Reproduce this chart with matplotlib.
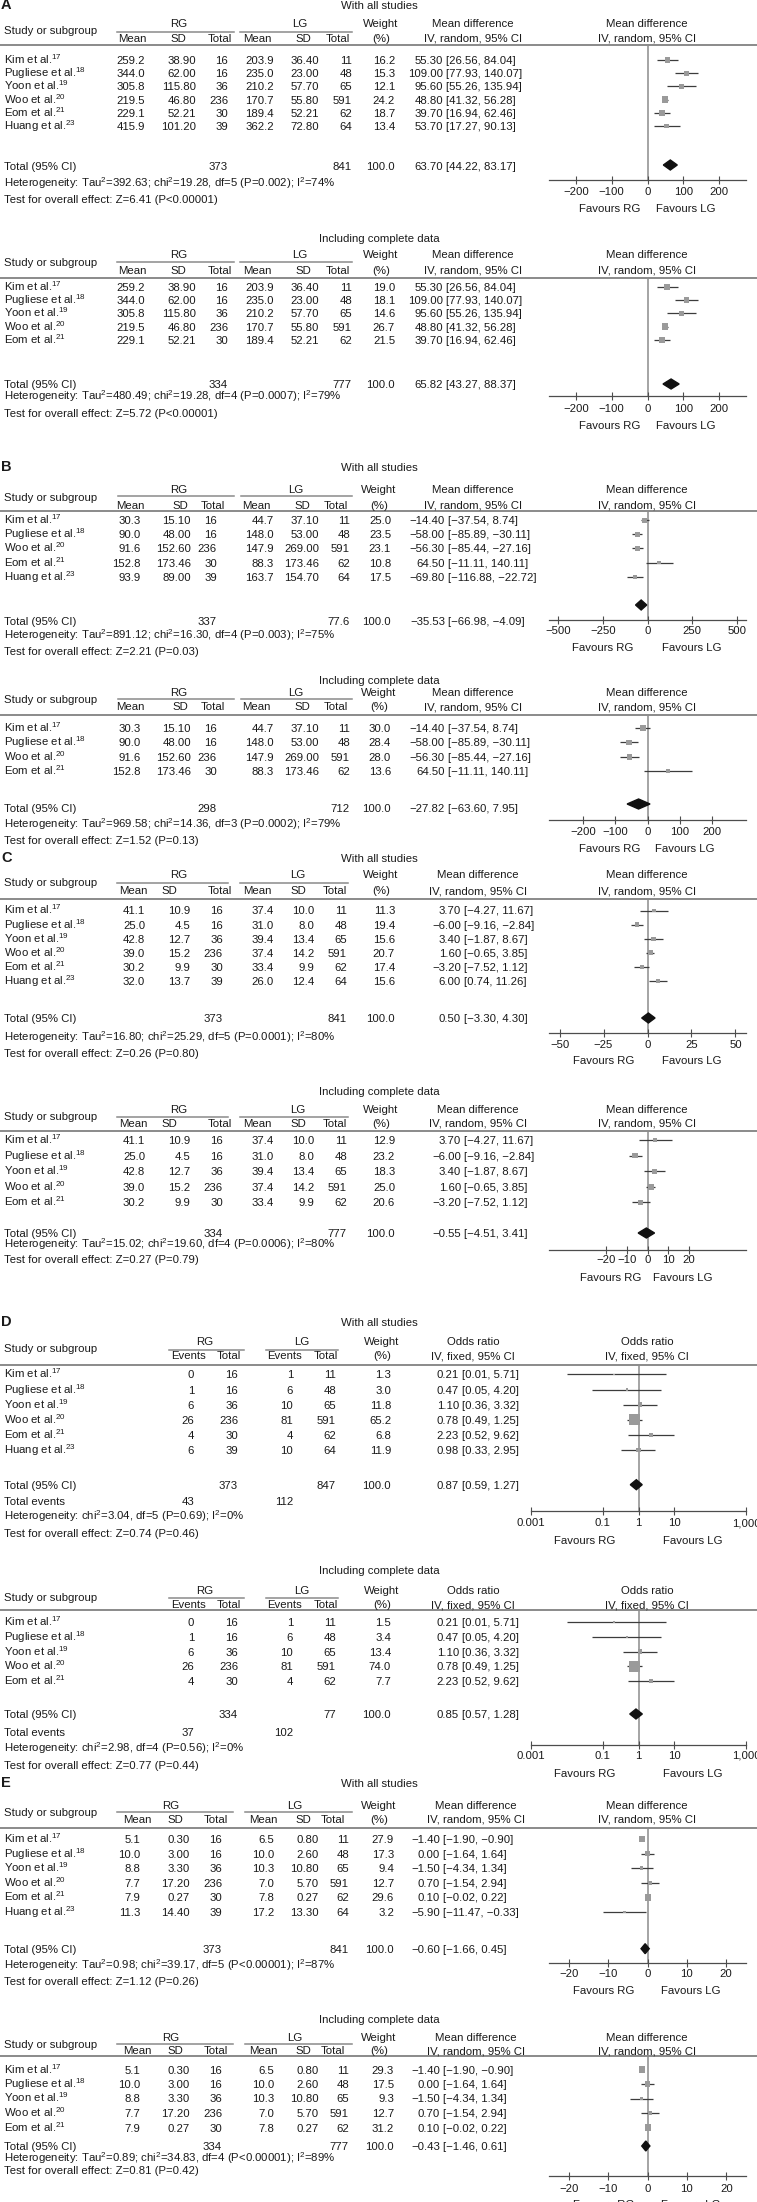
import numpy as np
import matplotlib
matplotlib.use('Agg')
import matplotlib.pyplot as plt
from matplotlib.patches import Polygon

# ---- data -------------------------------------------------------------
names6 = ['Kim et al.', 'Pugliese et al.', 'Yoon et al.', 'Woo et al.', 'Eom et al.', 'Huang et al.']
refs6 = [17, 18, 19, 20, 21, 23]
names_b = ['Kim et al.', 'Pugliese et al.', 'Woo et al.', 'Eom et al.', 'Huang et al.']
refs_b = [17, 18, 20, 21, 23]
rg_n6 = [16, 16, 36, 236, 30, 39]
lg_n6 = [11, 48, 65, 591, 62, 64]

# A
a_rg_mean = [259.2, 344.0, 305.8, 219.5, 229.1, 415.9]
a_rg_sd = [38.90, 62.00, 115.80, 46.80, 52.21, 101.20]
a_lg_mean = [203.9, 235.0, 210.2, 170.7, 189.4, 362.2]
a_lg_sd = [36.40, 23.00, 57.70, 55.80, 52.21, 72.80]
a_md = [55.30, 109.00, 95.60, 48.80, 39.70, 53.70]
a_lo = [26.56, 77.93, 55.26, 41.32, 16.94, 17.27]
a_hi = [84.04, 140.07, 135.94, 56.28, 62.46, 90.13]
a_w_all = [16.2, 15.3, 12.1, 24.2, 18.7, 13.4]
a_w_cmp = [19.0, 18.1, 14.6, 26.7, 21.5]
a_n_all = [373, 841]
a_n_cmp = [334, 777]
a_pool_all = [63.70, 44.22, 83.17]
a_pool_cmp = [65.82, 43.27, 88.37]

# B
b_rg_mean = [30.3, 90.0, 91.6, 152.8, 93.9]
b_rg_sd = [15.10, 48.00, 152.60, 173.46, 89.00]
b_rg_n = [16, 16, 236, 30, 39]
b_lg_mean = [44.7, 148.0, 147.9, 88.3, 163.7]
b_lg_sd = [37.10, 53.00, 269.00, 173.46, 154.70]
b_lg_n = [11, 48, 591, 62, 64]
b_md = [-14.40, -58.00, -56.30, 64.50, -69.80]
b_lo = [-37.54, -85.89, -85.44, -11.11, -116.88]
b_hi = [8.74, -30.11, -27.16, 140.11, -22.72]
b_w_all = [25.0, 23.5, 23.1, 10.8, 17.5]
b_w_cmp = [30.0, 28.4, 28.0, 13.6]
b_n_all = [337, 77.6]
b_n_cmp = [298, 712]
b_pool_all = [-35.53, -66.98, -4.09]
b_pool_cmp = [-27.82, -63.60, 7.95]

# C
c_rg_mean = [41.1, 25.0, 42.8, 39.0, 30.2, 32.0]
c_rg_sd = [10.9, 4.5, 12.7, 15.2, 9.9, 13.7]
c_lg_mean = [37.4, 31.0, 39.4, 37.4, 33.4, 26.0]
c_lg_sd = [10.0, 8.0, 13.4, 14.2, 9.9, 12.4]
c_md = [3.70, -6.00, 3.40, 1.60, -3.20, 6.00]
c_lo = [-4.27, -9.16, -1.87, -0.65, -7.52, 0.74]
c_hi = [11.67, -2.84, 8.67, 3.85, 1.12, 11.26]
c_w_all = [11.3, 19.4, 15.6, 20.7, 17.4, 15.6]
c_w_cmp = [12.9, 23.2, 18.3, 25.0, 20.6]
c_n_all = [373, 841]
c_n_cmp = [334, 777]
c_pool_all = [0.50, -3.30, 4.30]
c_pool_cmp = [-0.55, -4.51, 3.41]

# D
d_rg_ev = [0, 1, 6, 26, 4, 6]
d_lg_ev = [1, 6, 10, 81, 4, 10]
d_or = [0.21, 0.47, 1.10, 0.78, 2.23, 0.98]
d_lo = [0.01, 0.05, 0.36, 0.49, 0.52, 0.33]
d_hi = [5.71, 4.20, 3.32, 1.25, 9.62, 2.95]
d_w_all = [1.3, 3.0, 11.8, 65.2, 6.8, 11.9]
d_w_cmp = [1.5, 3.4, 13.4, 74.0, 7.7]
d_n_all = [373, 847]
d_n_cmp = [334, 77]
d_ev_all = [43, 112]
d_ev_cmp = [37, 102]
d_pool_all = [0.87, 0.59, 1.27]
d_pool_cmp = [0.85, 0.57, 1.28]

# E
e_rg_mean = [5.1, 10.0, 8.8, 7.7, 7.9, 11.3]
e_rg_sd = [0.30, 3.00, 3.30, 17.20, 0.27, 14.40]
e_lg_mean = [6.5, 10.0, 10.3, 7.0, 7.8, 17.2]
e_lg_sd = [0.80, 2.60, 10.80, 5.70, 0.27, 13.30]
e_md = [-1.40, 0.00, -1.50, 0.70, 0.10, -5.90]
e_lo = [-1.90, -1.64, -4.34, -1.54, -0.02, -11.47]
e_hi = [-0.90, 1.64, 1.34, 2.94, 0.22, -0.33]
e_w_all = [27.9, 17.3, 9.4, 12.7, 29.6, 3.2]
e_w_cmp = [29.3, 17.5, 9.3, 12.7, 31.2]
e_n_all = [373, 841]
e_n_cmp = [334, 777]
e_pool_all = [-0.60, -1.66, 0.45]
e_pool_cmp = [-0.43, -1.46, 0.61]

S2 = r'$^{\mathregular{2}}$'
het_txt = {
    'a1': f'Heterogeneity: Tau{S2}=392.63; chi{S2}=19.28, df=5 (P=0.002); I{S2}=74%',
    'a2': f'Heterogeneity: Tau{S2}=480.49; chi{S2}=19.28, df=4 (P=0.0007); I{S2}=79%',
    'b1': f'Heterogeneity: Tau{S2}=891.12; chi{S2}=16.30, df=4 (P=0.003); I{S2}=75%',
    'b2': f'Heterogeneity: Tau{S2}=969.58; chi{S2}=14.36, df=3 (P=0.0002); I{S2}=79%',
    'c1': f'Heterogeneity: Tau{S2}=16.80; chi{S2}=25.29, df=5 (P=0.0001); I{S2}=80%',
    'c2': f'Heterogeneity: Tau{S2}=15.02; chi{S2}=19.60, df=4 (P=0.0006); I{S2}=80%',
    'd1': f'Heterogeneity: chi{S2}=3.04, df=5 (P=0.69); I{S2}=0%',
    'd2': f'Heterogeneity: chi{S2}=2.98, df=4 (P=0.56); I{S2}=0%',
    'e1': f'Heterogeneity: Tau{S2}=0.98; chi{S2}=39.17, df=5 (P<0.00001); I{S2}=87%',
    'e2': f'Heterogeneity: Tau{S2}=0.89; chi{S2}=34.83, df=4 (P<0.00001); I{S2}=89%',
}
test_txt = {
    'a1': 'Test for overall effect: Z=6.41 (P<0.00001)',
    'a2': 'Test for overall effect: Z=5.72 (P<0.00001)',
    'b1': 'Test for overall effect: Z=2.21 (P=0.03)',
    'b2': 'Test for overall effect: Z=1.52 (P=0.13)',
    'c1': 'Test for overall effect: Z=0.26 (P=0.80)',
    'c2': 'Test for overall effect: Z=0.27 (P=0.79)',
    'd1': 'Test for overall effect: Z=0.74 (P=0.46)',
    'd2': 'Test for overall effect: Z=0.77 (P=0.44)',
    'e1': 'Test for overall effect: Z=1.12 (P=0.26)',
    'e2': 'Test for overall effect: Z=0.81 (P=0.42)',
}

# ---- layout (pixel positions) ------------------------------------------
W, H = 757, 2202
FS = 8.2
TC = '#1a1a1a'
LINE = '#8a8a8a'

L_a1 = dict(T=5, h1=23, h2=37.5, ul=32, rule=45, r0=60, dr=13.2, tot=166, dia=165,
            het=182.7, test=199.3, axis=180, tl=193.3, fav=208.3, fx=(610, 686))
L_a2 = dict(T=238, h1=254, h2=269.7, ul=262, rule=278, r0=287, dr=13.2, tot=384, dia=384,
            het=396.3, test=413, axis=396, tl=410.7, fav=424.7, fx=(610, 686))
L_b1 = dict(T=467, h1=488.7, h2=504.7, ul=496, rule=511.3, r0=520, dr=14.2, tot=621.3, dia=605,
            het=635.3, test=651.3, axis=620, tl=632.7, fav=646.7, fx=(603, 692))
L_b2 = dict(T=680.3, h1=692, h2=706.5, ul=699, rule=715, r0=728.3, dr=14.2, tot=808.3, dia=804,
            het=824.3, test=840, axis=820, tl=833.3, fav=848.3, fx=(610, 685))
L_c1 = dict(T=858.3, h1=874, h2=890.5, ul=882.5, rule=899.3, r0=910.5, dr=14.1, tot=1018, dia=1018,
            het=1037, test=1053, axis=1033, tl=1046.3, fav=1059.7, fx=(604, 692))
L_c2 = dict(T=1091.3, h1=1108.7, h2=1123, ul=1117, rule=1131.3, r0=1140, dr=15.6, tot=1233, dia=1233,
            het=1244, test=1258.7, axis=1250, tl=1261.7, fav=1276.7, fx=(611, 683))
L_d1 = dict(T=1322, h1=1341.3, h2=1355.3, ul=1350, rule=1365.3, r0=1374.5, dr=15.1, tot=1484.7,
            dia=1484.7, tev=1500.7, het=1516.3, test=1533, axis=1511.3, tl=1524.7, fav=1539.7, fx=(585, 693))
L_d2 = dict(T=1569.7, h1=1589.7, h2=1604, ul=1598, rule=1609.7, r0=1622, dr=14.8, tot=1714,
            dia=1714, tev=1732, het=1748, test=1764.7, axis=1744.7, tl=1757.3, fav=1773, fx=(585, 693))
L_e1 = dict(T=1783, h1=1804.7, h2=1818.7, ul=1812, rule=1828, r0=1839, dr=14.6, tot=1948.7, dia=1948.7,
            het=1965.3, test=1981.3, axis=1962.7, tl=1975.3, fav=1989.7, fx=(604, 691))
L_e2 = dict(T=2018.7, h1=2037, h2=2050.3, ul=2044, rule=2056, r0=2069.5, dr=14.5, tot=2146, dia=2146,
            het=2158.3, test=2170, axis=2176, tl=2190, fav=2204, fx=(604, 691))

X_a = dict(cols=[145, 196, 228, 274, 319, 352], heads=[132, 178, 220, 257, 303, 338],
           grp=[(179, 117, 234), (300, 240, 352)], w=395, wh=381, e=443, mh=473)
X_b = dict(cols=[141, 191, 217, 274, 319, 350], heads=[130, 180, 213, 256, 302, 336],
           grp=[(179, 118, 234), (296, 241, 352)], w=391, wh=379, e=445, mh=473)
X_c = dict(cols=[145, 190, 223, 274, 314, 347], heads=[133, 169, 220, 257, 298, 335],
           grp=[(179, 117, 228), (298, 240, 348)], w=395, wh=381, e=461, mh=478)
X_d = dict(cols=[194, 238, 293, 336], heads=[188, 229, 285, 326],
           grp=[(205, 169, 244), (302, 266, 338)], w=391, wh=382, e=459, mh=473)
X_e = dict(cols=[140, 190, 222, 274, 319, 349], heads=[137, 175, 216, 263, 303, 333],
           grp=[(171, 117, 233), (295, 245, 352)], w=394, wh=379, e=440, mh=476)

plt.rcParams['font.family'] = ['Liberation Sans', 'DejaVu Sans']
plt.rcParams['axes.unicode_minus'] = True

fig = plt.figure(figsize=(W / 100, H / 100), dpi=100)
bg = fig.add_axes([0, 0, 1, 1])
bg.set_xlim(0, W)
bg.set_ylim(H, 0)
bg.axis('off')


def num(v, d):
    return f'{v:.{d}f}'.replace('-', '\u2212')


def txt(x, y, s, ha='left', size=FS, **kw):
    # y is the visual centre of the capitals
    bg.text(x, y + 4, s, ha=ha, va='baseline', fontsize=size, color=TC, **kw)


def forest(L, est, lo, hi, wts, pooled, xlim, ticks, tlabels, k, log=False, x0=549, x1=746):
    ax = fig.add_axes([x0 / W, 1 - L['axis'] / H, (x1 - x0) / W, (L['axis'] - L['rule']) / H])
    if log:
        ax.set_xscale('log')
    ax.set_xlim(*xlim)
    ax.set_ylim(L['axis'], L['rule'])
    ax.patch.set_visible(False)
    for s in ('top', 'right', 'left'):
        ax.spines[s].set_visible(False)
    ax.spines['bottom'].set_color('#4d4d4d')
    ax.spines['bottom'].set_linewidth(0.9)
    ax.set_yticks([])
    ax.set_xticks(ticks, tlabels)
    ax.minorticks_off()
    pad = max((L['tl'] - L['axis'] - 6.3) / 1.389 - 3, 0)
    ax.tick_params(axis='x', direction='inout', length=6, width=0.8, color='#4d4d4d',
                   labelsize=FS, labelcolor=TC, pad=pad)
    ax.axvline(1 if log else 0, color='#8c8c8c', lw=1.1, zorder=1)
    n = len(wts)
    ys = L['r0'] + L['dr'] * np.arange(n)
    ax.hlines(ys, lo[:n], hi[:n], color='#3c3c3c', lw=0.9, zorder=2)
    ax.scatter(est[:n], ys, marker='s', s=(k * 0.72 * np.sqrt(wts)) ** 2,
               color='#9a9a9a', linewidths=0, zorder=3)
    pe, pl, ph = pooled
    yd = L['dia']
    ax.add_patch(Polygon([(pl, yd), (pe, yd - 5), (ph, yd), (pe, yd + 5)], closed=True,
                         color='#111111', zorder=4))
    txt(L['fx'][0], L['fav'], 'Favours RG', ha='center')
    txt(L['fx'][1], L['fav'], 'Favours LG', ha='center')


def table(L, X, title, letter, names, refs, cols, decs, heads, tot_idx, wts, est, lo, hi,
          n_tot, pooled, key, effect, events=None):
    n = len(wts)
    txt(379, L['T'], title, ha='center')
    if letter:
        txt(1, L['T'], letter, size=10.5, weight='bold')
    txt(4, (L['h1'] + L['h2']) / 2, 'Study or subgroup')
    for g, (cx, a, b) in zip(('RG', 'LG'), X['grp']):
        txt(cx, L['h1'], g, ha='center')
        bg.plot([a, b], [L['ul'], L['ul']], color=LINE, lw=1.1)
    for h, hx in zip(heads, X['heads']):
        txt(hx, L['h2'], h, ha='center')
    txt(X['wh'], L['h1'], 'Weight', ha='center')
    txt(X['wh'], L['h2'], '(%)', ha='center')
    for cx in (X['mh'], 647):
        txt(cx, L['h1'], effect[0], ha='center')
        txt(cx, L['h2'], effect[1], ha='center')
    bg.plot([0, W], [L['rule'], L['rule']], color=LINE, lw=1.4)
    ys = L['r0'] + L['dr'] * np.arange(n)
    for i, y in enumerate(ys):
        txt(4, y, names[i] + r'$^{\mathregular{%d}}$' % refs[i])
        for c, d, xr in zip(cols, decs, X['cols']):
            txt(xr, y, num(c[i], d), ha='right')
        txt(X['w'], y, num(wts[i], 1), ha='right')
        txt(X['e'], y, num(est[i], 2), ha='right')
        txt(X['e'] + 3, y, '[%s, %s]' % (num(lo[i], 2), num(hi[i], 2)))
    y = L['tot']
    txt(4, y, 'Total (95% CI)')
    for v, j in zip(n_tot, tot_idx):
        txt(X['cols'][j], y, '%g' % v, ha='right')
    txt(X['w'], y, num(100.0, 1), ha='right')
    txt(X['e'], y, num(pooled[0], 2), ha='right')
    txt(X['e'] + 3, y, '[%s, %s]' % (num(pooled[1], 2), num(pooled[2], 2)))
    if events is not None:
        txt(4, L['tev'], 'Total events')
        for v, j in zip(events, (0, 2)):
            txt(X['cols'][j], L['tev'], str(v), ha='right')
    txt(4, L['het'], het_txt[key])
    txt(4, L['test'], test_txt[key])


MD = ('Mean difference', 'IV, random, 95% CI')
OR = ('Odds ratio', 'IV, fixed, 95% CI')
heads_md = ['Mean', 'SD', 'Total', 'Mean', 'SD', 'Total']
heads_or = ['Events', 'Total', 'Events', 'Total']
ALL, CMP = 'With all studies', 'Including complete data'
m = '\u2212'

# A
a_cols = [a_rg_mean, a_rg_sd, rg_n6, a_lg_mean, a_lg_sd, lg_n6]
a_dec = [1, 2, 0, 1, 2, 0]
t_a = [-200, -100, 0, 100, 200]
l_a = [m + '200', m + '100', '0', '100', '200']
table(L_a1, X_a, ALL, 'A', names6, refs6, a_cols, a_dec, heads_md, (2, 5), a_w_all,
      a_md, a_lo, a_hi, a_n_all, a_pool_all, 'a1', MD)
forest(L_a1, a_md, a_lo, a_hi, a_w_all, a_pool_all, (-275, 275), t_a, l_a, 1.3)
table(L_a2, X_a, CMP, None, names6, refs6, a_cols, a_dec, heads_md, (2, 5), a_w_cmp,
      a_md, a_lo, a_hi, a_n_cmp, a_pool_cmp, 'a2', MD)
forest(L_a2, a_md, a_lo, a_hi, a_w_cmp, a_pool_cmp, (-275, 275), t_a, l_a, 1.3)

# B
b_cols = [b_rg_mean, b_rg_sd, b_rg_n, b_lg_mean, b_lg_sd, b_lg_n]
table(L_b1, X_b, ALL, 'B', names_b, refs_b, b_cols, a_dec, heads_md, (2, 5), b_w_all,
      b_md, b_lo, b_hi, b_n_all, b_pool_all, 'b1', MD)
forest(L_b1, b_md, b_lo, b_hi, b_w_all, b_pool_all, (-552, 552), [-500, -250, 0, 250, 500],
       [m + '500', m + '250', '0', '250', '500'], 1.0)
table(L_b2, X_b, CMP, None, names_b, refs_b, b_cols, a_dec, heads_md, (2, 5), b_w_cmp,
      b_md, b_lo, b_hi, b_n_cmp, b_pool_cmp, 'b2', MD)
forest(L_b2, b_md, b_lo, b_hi, b_w_cmp, b_pool_cmp, (-307, 307), t_a, l_a, 1.1)

# C
c_cols = [c_rg_mean, c_rg_sd, rg_n6, c_lg_mean, c_lg_sd, lg_n6]
c_dec = [1, 1, 0, 1, 1, 0]
table(L_c1, X_c, ALL, 'C', names6, refs6, c_cols, c_dec, heads_md, (2, 5), c_w_all,
      c_md, c_lo, c_hi, c_n_all, c_pool_all, 'c1', MD)
forest(L_c1, c_md, c_lo, c_hi, c_w_all, c_pool_all, (-56, 56), [-50, -25, 0, 25, 50],
       [m + '50', m + '25', '0', '25', '50'], 1.1)
table(L_c2, X_c, CMP, None, names6, refs6, c_cols, c_dec, heads_md, (2, 5), c_w_cmp,
      c_md, c_lo, c_hi, c_n_cmp, c_pool_cmp, 'c2', MD)
forest(L_c2, c_md, c_lo, c_hi, c_w_cmp, c_pool_cmp, (-47.5, 47.5), [-20, -10, 0, 10, 20],
       [m + '20', m + '10', '0', '10', '20'], 1.1)

# D
d_cols = [d_rg_ev, rg_n6, d_lg_ev, lg_n6]
d_dec = [0, 0, 0, 0]
t_d = [0.001, 0.1, 1, 10, 1000]
l_d = ['0.001', '0.1', '1', '10', '1,000']
table(L_d1, X_d, ALL, 'D', names6, refs6, d_cols, d_dec, heads_or, (1, 3), d_w_all,
      d_or, d_lo, d_hi, d_n_all, d_pool_all, 'd1', OR, events=d_ev_all)
forest(L_d1, d_or, d_lo, d_hi, d_w_all, d_pool_all, (0.001, 1000), t_d, l_d, 1.35,
       log=True, x0=531)
table(L_d2, X_d, CMP, None, names6, refs6, d_cols, d_dec, heads_or, (1, 3), d_w_cmp,
      d_or, d_lo, d_hi, d_n_cmp, d_pool_cmp, 'd2', OR, events=d_ev_cmp)
forest(L_d2, d_or, d_lo, d_hi, d_w_cmp, d_pool_cmp, (0.001, 1000), t_d, l_d, 1.35,
       log=True, x0=531)

# E
e_cols = [e_rg_mean, e_rg_sd, rg_n6, e_lg_mean, e_lg_sd, lg_n6]
t_e = [-20, -10, 0, 10, 20]
l_e = [m + '20', m + '10', '0', '10', '20']
table(L_e1, X_e, ALL, 'E', names6, refs6, e_cols, a_dec, heads_md, (2, 5), e_w_all,
      e_md, e_lo, e_hi, e_n_all, e_pool_all, 'e1', MD)
forest(L_e1, e_md, e_lo, e_hi, e_w_all, e_pool_all, (-25.2, 25.2), t_e, l_e, 1.2)
table(L_e2, X_e, CMP, None, names6, refs6, e_cols, a_dec, heads_md, (2, 5), e_w_cmp,
      e_md, e_lo, e_hi, e_n_cmp, e_pool_cmp, 'e2', MD)
forest(L_e2, e_md, e_lo, e_hi, e_w_cmp, e_pool_cmp, (-25, 25), t_e, l_e, 1.2)

fig.savefig('out.png', dpi=100)
